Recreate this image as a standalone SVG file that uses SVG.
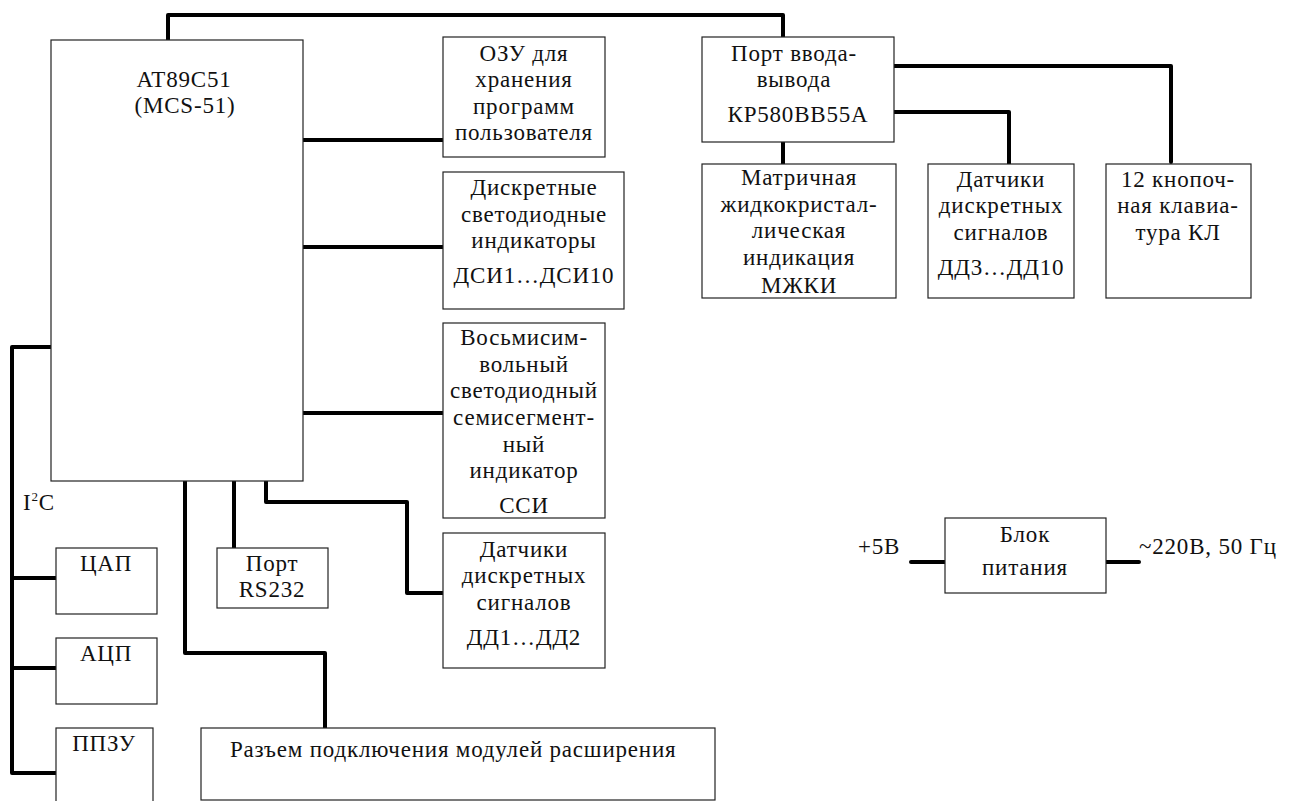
<svg xmlns="http://www.w3.org/2000/svg" width="1290" height="801" viewBox="0 0 1290 801" font-family="'Liberation Serif', 'Times New Roman', 'DejaVu Serif', serif">
<style>
.box{fill:#fff;stroke:#222;stroke-width:1.2}
.w{fill:none;stroke:#000;stroke-width:4;stroke-linejoin:round;stroke-linecap:round}
text{font-family:'Liberation Serif','Times New Roman','DejaVu Serif',serif;font-size:23px;letter-spacing:0.8px;fill:#111}
.c{text-anchor:middle}
</style>
<rect width="1290" height="801" fill="#fff"/>
<g id="connectors">
<polyline class="w" points="168,40 168,15 783,15 783,37"/>
<line class="w" x1="303" y1="140" x2="443" y2="140"/>
<line class="w" x1="303" y1="247" x2="443" y2="247"/>
<line class="w" x1="303" y1="413" x2="443" y2="413"/>
<polyline class="w" points="266,481 266,502 407,502 407,593 443,593"/>
<line class="w" x1="234" y1="481" x2="234" y2="548"/>
<polyline class="w" points="185,481 185,653 325,653 325,728"/>
<line class="w" x1="783" y1="142" x2="783" y2="164"/>
<polyline class="w" points="894,112 1009,112 1009,164"/>
<polyline class="w" points="894,66 1171,66 1171,162"/>
<polyline class="w" points="51,347 12,347 12,773 56,773"/>
<line class="w" x1="12" y1="578" x2="56" y2="578"/>
<line class="w" x1="12" y1="668" x2="56" y2="668"/>
<line class="w" x1="911" y1="562" x2="945" y2="562"/>
<line class="w" x1="1106" y1="562" x2="1139" y2="562"/>
</g>
<g id="mcu"><rect class="box" x="51" y="40" width="252" height="441"/>
<text class="c" x="184" y="87">AT89C51</text><text class="c" x="185" y="113">(MCS-51)</text></g>
<g id="ozu"><rect class="box" x="443" y="37" width="162" height="120"/>
<text class="c" x="524" y="61">ОЗУ для</text><text class="c" x="524" y="87">хранения</text><text class="c" x="524" y="114">программ</text><text class="c" x="524" y="140">пользователя</text></g>
<g id="dsi"><rect class="box" x="443" y="172" width="181" height="137"/>
<text class="c" x="534" y="195">Дискретные</text><text class="c" x="534" y="222">светодиодные</text><text class="c" x="534" y="248">индикаторы</text><text class="c" x="534" y="283">ДСИ1…ДСИ10</text></g>
<g id="ssi"><rect class="box" x="443" y="323" width="162" height="195"/>
<text class="c" x="524" y="345">Восьмисим-</text><text class="c" x="524" y="372">вольный</text><text class="c" x="524" y="398">светодиодный</text><text class="c" x="524" y="425">семисегмент-</text><text class="c" x="524" y="452">ный</text><text class="c" x="524" y="478">индикатор</text><text class="c" x="524" y="513">ССИ</text></g>
<g id="dd12"><rect class="box" x="443" y="533" width="162" height="135"/>
<text class="c" x="524" y="557">Датчики</text><text class="c" x="524" y="583">дискретных</text><text class="c" x="524" y="610">сигналов</text><text class="c" x="524" y="645">ДД1…ДД2</text></g>
<g id="port"><rect class="box" x="702" y="37" width="192" height="105"/>
<text class="c" x="794" y="61">Порт ввода-</text><text class="c" x="794" y="87">вывода</text><text class="c" x="798" y="122">КР580ВВ55А</text></g>
<g id="mzhki"><rect class="box" x="702" y="164" width="194" height="134"/>
<text class="c" x="799" y="185">Матричная</text><text class="c" x="799" y="212">жидкокристал-</text><text class="c" x="799" y="238">лическая</text><text class="c" x="799" y="265">индикация</text><text class="c" x="799" y="293">МЖКИ</text></g>
<g id="dd310"><rect class="box" x="928" y="164" width="146" height="134"/>
<text class="c" x="1001" y="187">Датчики</text><text class="c" x="1001" y="213">дискретных</text><text class="c" x="1001" y="240">сигналов</text><text class="c" x="1001" y="275">ДД3…ДД10</text></g>
<g id="kl"><rect class="box" x="1106" y="164" width="145" height="134"/>
<text class="c" x="1178" y="187">12 кнопоч-</text><text class="c" x="1178" y="213">ная клавиа-</text><text class="c" x="1178" y="240">тура КЛ</text></g>
<g id="rs232"><rect class="box" x="217" y="548" width="111" height="60"/>
<text class="c" x="272" y="571">Порт</text><text class="c" x="272" y="597">RS232</text></g>
<g id="cap"><rect class="box" x="56" y="548" width="101" height="66"/><text class="c" x="106" y="571">ЦАП</text></g>
<g id="acp"><rect class="box" x="56" y="638" width="101" height="66"/><text class="c" x="106" y="661">АЦП</text></g>
<g id="ppzu"><rect class="box" x="56" y="728" width="97" height="80"/><text class="c" x="104" y="751">ППЗУ</text></g>
<g id="razem"><rect class="box" x="201" y="728" width="514" height="72"/><text x="230" y="757">Разъем подключения модулей расширения</text></g>
<g id="psu"><rect class="box" x="945" y="518" width="161" height="75"/>
<text class="c" x="1025" y="542">Блок</text><text class="c" x="1025" y="575">питания</text></g>
<g id="labels">
<text x="23" y="510">I<tspan font-size="13" dy="-9">2</tspan><tspan dy="9">C</tspan></text>
<text x="858" y="554">+5В</text>
<text x="1139" y="554">~220В, 50 Гц</text>
</g>
</svg>
